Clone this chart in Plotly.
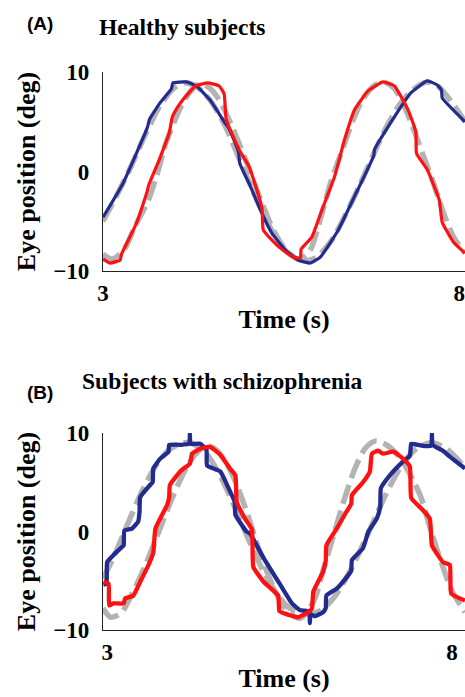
import plotly.graph_objects as go

# ---------------- Panel A: healthy subjects ----------------
a_target_blue_t = [3.0, 3.2, 3.4, 3.6, 3.8, 4.0, 4.15, 4.3, 4.5, 4.7, 4.9, 5.1, 5.3, 5.5, 5.7, 5.85,
                   6.0, 6.2, 6.4, 6.6, 6.8, 7.0, 7.2, 7.4, 7.55, 7.7, 7.9, 8.08]
a_target_blue_v = [-5.0, -2.3, 0.6, 3.8, 6.6, 8.4, 8.9, 8.6, 7.2, 4.8, 1.5, -1.9, -5.0, -7.5, -8.7, -9.0,
                   -8.6, -7.0, -4.4, -1.4, 1.8, 4.8, 7.1, 8.5, 9.0, 8.6, 6.9, 5.0]
a_target_red_t = [3.0, 3.13, 3.3, 3.45, 3.63, 3.75, 3.88, 4.0, 4.1, 4.22, 4.35, 4.48, 4.63, 4.8, 5.0, 5.2,
                  5.4, 5.58, 5.75, 5.9, 6.05, 6.2, 6.37, 6.5, 6.65, 6.8, 6.93, 7.08, 7.2, 7.35, 7.5,
                  7.62, 7.78, 7.92, 8.08]
a_target_red_v = [-8.3, -8.8, -7.8, -5.5, -3.0, -0.5, 2.8, 5.0, 6.6, 8.0, 8.8, 8.5, 7.2, 4.7, 1.2, -2.6,
                  -6.0, -8.0, -8.8, -8.0, -4.8, -1.0, 2.4, 5.0, 7.3, 8.6, 9.0, 8.4, 7.0, 4.4, 1.5,
                  -0.8, -4.2, -6.6, -8.2]
a_eye_blue_t = [3.0, 3.28, 3.6, 3.63, 3.65, 3.80, 3.96, 3.98, 4.17, 4.31, 4.50, 4.71, 4.77, 4.90, 4.92,
                5.05, 5.23, 5.37, 5.56, 5.74, 5.91, 6.05, 6.30, 6.53, 6.80, 6.81, 7.09, 7.32, 7.55,
                7.69, 7.75, 7.76, 8.08]
a_eye_blue_v = [-4.6, -1.2, 4.0, 4.6, 5.2, 6.9, 8.3, 8.9, 9.0, 8.6, 7.2, 4.9, 4.3, 2.0, 0.8,
                -1.2, -4.2, -6.2, -7.9, -8.9, -9.2, -8.6, -5.9, -2.5, 1.6, 2.2, 5.5, 7.9, 9.1,
                8.7, 8.2, 7.4, 5.0]
a_eye_red_t = [3.0, 3.10, 3.24, 3.26, 3.47, 3.62, 3.64, 3.79, 3.93, 3.97, 4.0, 4.12, 4.30, 4.47, 4.63,
               4.70, 4.73, 4.91, 5.05, 5.23, 5.25, 5.47, 5.67, 5.77, 5.78, 5.93, 6.07, 6.25, 6.39,
               6.53, 6.72, 6.93, 7.09, 7.28, 7.39, 7.40, 7.55, 7.72, 7.76, 7.92, 8.08]
a_eye_red_v = [-8.8, -9.2, -8.9, -8.3, -5.2, -2.0, -1.4, 1.2, 3.9, 5.4, 5.9, 7.2, 8.6, 8.9, 8.6,
               7.8, 5.2, 2.2, 0.5, -3.6, -5.9, -7.6, -8.6, -8.7, -7.8, -6.6, -3.9, -0.5, 3.2,
               6.2, 8.1, 9.0, 8.6, 6.2, 4.0, 1.8, 0.2, -2.9, -5.1, -7.1, -8.2]

# ---------------- Panel B: subjects with schizophrenia ----------------
b_target_blue_t = [2.94, 3.1, 3.3, 3.5, 3.7, 3.9, 4.1, 4.25, 4.45, 4.65, 4.85, 5.05, 5.25, 5.45, 5.65,
                   5.9, 6.1, 6.3, 6.5, 6.7, 6.9, 7.1, 7.3, 7.5, 7.7, 7.9, 8.1, 8.19]
b_target_blue_v = [-4.8, -2.5, 0.8, 4.0, 6.6, 8.3, 9.0, 8.9, 7.8, 5.5, 2.5, -0.8, -3.8, -6.2, -7.8,
                   -8.4, -8.0, -6.6, -4.3, -1.5, 1.6, 4.6, 7.0, 8.5, 9.0, 8.5, 7.2, 6.4]
b_target_red_t = [2.94, 3.05, 3.2, 3.35, 3.55, 3.75, 3.95, 4.15, 4.3, 4.45, 4.6, 4.8, 5.0, 5.2, 5.4,
                  5.6, 5.8, 6.0, 6.15, 6.3, 6.45, 6.6, 6.75, 6.9, 7.05, 7.25, 7.45, 7.55, 7.7, 7.85,
                  8.0, 8.19]
b_target_red_v = [-7.8, -8.7, -8.3, -6.5, -3.5, 0.0, 3.5, 6.5, 8.0, 8.7, 8.2, 6.0, 2.5, -1.8, -5.5,
                  -8.0, -8.8, -7.0, -3.5, 0.0, 3.5, 6.5, 8.5, 9.2, 8.8, 7.5, 5.0, 3.5, 0.0, -3.2,
                  -6.0, -8.2]
b_eye_blue_t = [2.946, 2.99, 3.0, 3.09, 3.21, 3.24, 3.25, 3.36, 3.45, 3.47, 3.48, 3.62, 3.66, 3.67,
                3.77, 3.89, 3.90, 4.06, 4.19, 4.20, 4.21, 4.35, 4.44, 4.45, 4.64, 4.76, 4.85, 4.86,
                5.02, 5.07, 5.27, 5.51, 5.68, 5.80, 5.93, 5.94, 5.95, 6.01, 6.13, 6.17, 6.18, 6.33,
                6.50, 6.54, 6.55, 6.71, 6.79, 6.91, 6.96, 6.97, 7.10, 7.29, 7.39, 7.40, 7.41, 7.58,
                7.70, 7.71, 7.72, 7.87, 7.97, 8.19]
b_eye_blue_v = [-5.4, -5.3, -3.1, -2.4, -1.6, -1.4, 0.1, 0.3, 1.0, 2.0, 3.5, 4.7, 5.0, 6.4,
                7.4, 8.1, 8.8, 8.8, 8.9, 9.95, 8.9, 8.9, 8.3, 6.7, 6.1, 4.4, 3.0, 1.7,
                0.0, -0.2, -2.7, -5.4, -7.3, -8.0, -8.1, -9.3, -8.4, -8.6, -8.2, -7.8, -6.5, -5.8,
                -4.4, -4.0, -2.9, -1.7, 0.0, 1.3, 2.5, 4.4, 5.7, 7.1, 7.7, 8.3, 8.9, 8.7,
                8.7, 9.95, 8.8, 8.2, 7.6, 6.4]
b_eye_red_t = [2.946, 3.02, 3.03, 3.09, 3.24, 3.26, 3.38, 3.48, 3.60, 3.67, 3.70, 3.87, 3.90, 3.91,
               4.06, 4.20, 4.22, 4.23, 4.35, 4.49, 4.64, 4.78, 4.86, 4.88, 5.0, 5.10, 5.12, 5.27,
               5.48, 5.50, 5.65, 5.77, 5.89, 5.97, 5.99, 6.13, 6.17, 6.18, 6.33, 6.47, 6.54, 6.55,
               6.71, 6.81, 6.84, 6.93, 7.0, 7.15, 7.29, 7.39, 7.41, 7.56, 7.68, 7.71, 7.87, 7.97,
               7.99, 8.19]
b_eye_red_v = [-5.1, -5.3, -7.5, -7.3, -7.3, -6.8, -6.5, -5.1, -3.4, -2.1, 0.3, 2.7, 3.5, 4.7,
               6.1, 6.9, 7.5, 7.9, 8.4, 8.6, 7.8, 6.4, 5.7, 3.0, 1.3, 0.2, -3.6, -5.1,
               -6.5, -8.1, -8.5, -8.7, -8.3, -7.8, -6.1, -4.1, -3.0, -1.4, 0.3, 2.0, 2.8, 3.7,
               5.0, 6.1, 7.9, 8.2, 7.9, 8.1, 7.4, 6.6, 3.4, 2.3, 1.3, -1.4, -3.1, -3.4,
               -6.3, -7.0]

panel_titles = ["Healthy subjects", "Subjects with schizophrenia"]
panel_letters = ["(A)", "(B)"]
x_tick_vals = [3, 8]
y_tick_vals = [-10, 0, 10]

GRAY = "#b3b3b3"
BLUE = "#232c8e"
RED = "#ff1111"
SERIF = "Liberation Serif, Times New Roman, serif"
SANS = "Liberation Sans, Arial, sans-serif"

fig = go.Figure()

def add_panel(xa, ya, tb, vb, tr, vr, eb_t, eb_v, er_t, er_v, eye_w):
    fig.add_trace(go.Scatter(x=tb, y=vb, mode="lines", xaxis=xa, yaxis=ya,
                             line=dict(color=GRAY, width=5.5, dash="20px,7px", shape="spline", smoothing=0.8),
                             hoverinfo="skip"))
    fig.add_trace(go.Scatter(x=tr, y=vr, mode="lines", xaxis=xa, yaxis=ya,
                             line=dict(color=GRAY, width=5.5, dash="20px,7px", shape="spline", smoothing=0.8),
                             hoverinfo="skip"))
    fig.add_trace(go.Scatter(x=eb_t, y=eb_v, mode="lines", xaxis=xa, yaxis=ya,
                             line=dict(color=BLUE, width=eye_w, shape="spline", smoothing=0.4)))
    fig.add_trace(go.Scatter(x=er_t, y=er_v, mode="lines", xaxis=xa, yaxis=ya,
                             line=dict(color=RED, width=eye_w, shape="spline", smoothing=0.4)))

add_panel("x", "y", a_target_blue_t, a_target_blue_v, a_target_red_t, a_target_red_v,
          a_eye_blue_t, a_eye_blue_v, a_eye_red_t, a_eye_red_v, 3.2)
add_panel("x2", "y2", b_target_blue_t, b_target_blue_v, b_target_red_t, b_target_red_v,
          b_eye_blue_t, b_eye_blue_v, b_eye_red_t, b_eye_red_v, 4.3)

W, H = 465, 697
def py(p):
    return 1 - p / H

tickfont = dict(family=SERIF, size=23, color="black", weight="bold")
titlefont = dict(family=SERIF, size=26, color="black", weight="bold")

def xaxis(rng, anchor):
    return dict(domain=[103 / W, 1], range=rng, anchor=anchor, tickvals=x_tick_vals,
                ticks="", showgrid=False, zeroline=False, showline=True, linecolor="#222",
                linewidth=1.3, tickfont=tickfont, ticklabelstandoff=1, automargin=False,
                ticklabeloverflow="allow",
                title=dict(text="Time (s)", font=titlefont, standoff=5))

def yaxis(dom, anchor):
    return dict(domain=dom, range=[-10, 10], anchor=anchor, tickvals=y_tick_vals,
                ticks="", showgrid=False, zeroline=False, showline=True, linecolor="#222",
                linewidth=1.3, tickfont=tickfont, ticklabelstandoff=8, automargin=False,
                ticklabeloverflow="allow",
                title=dict(text="Eye position (deg)", font=titlefont, standoff=10))

fig.update_layout(
    width=W, height=H, margin=dict(l=0, r=0, t=0, b=0),
    paper_bgcolor="white", plot_bgcolor="white", showlegend=False,
    xaxis=xaxis([3, 8.08], "y"),
    yaxis=yaxis([py(271), py(72)], "x"),
    xaxis2=xaxis([2.94, 8.19], "y2"),
    yaxis2=yaxis([py(630), py(433)], "x2"),
)

ann = [
    dict(text=panel_letters[0], x=25 / W, y=py(24), xanchor="left", yanchor="middle",
         font=dict(family=SANS, size=19, color="black", weight="bold")),
    dict(text=panel_titles[0], x=97 / W, y=py(27), xanchor="left", yanchor="middle",
         font=dict(family=SERIF, size=23.5, color="black", weight="bold")),
    dict(text=panel_letters[1], x=25 / W, y=py(392), xanchor="left", yanchor="middle",
         font=dict(family=SANS, size=19, color="black", weight="bold")),
    dict(text=panel_titles[1], x=80 / W, y=py(381), xanchor="left", yanchor="middle",
         font=dict(family=SERIF, size=23.5, color="black", weight="bold")),
]
for a in ann:
    a.update(xref="paper", yref="paper", showarrow=False)
fig.update_layout(annotations=ann)

fig.write_html("out.html", config={"displayModeBar": False},
               post_script="document.body.style.margin='0';document.body.style.overflow='hidden';")
